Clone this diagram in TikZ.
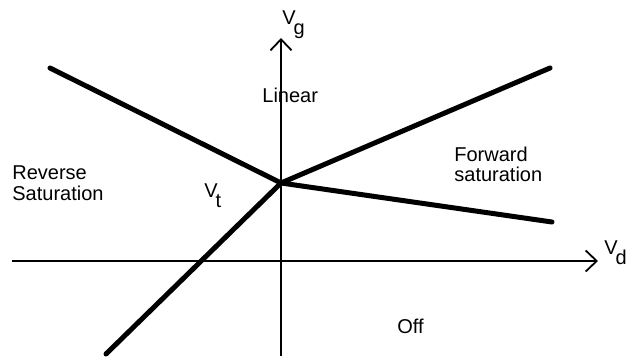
\documentclass[tikz,border=0pt]{standalone}
\usepackage{fontspec}
\setmainfont{Liberation Sans}
\usetikzlibrary{arrows.meta}
\begin{document}
\begin{tikzpicture}[x=0.5pt, y=-0.5pt, font=\fontsize{10}{10}\selectfont,
    axis/.style={line width=0.9pt, -{Straight Barb[length=5.5pt, width=10.5pt]}},
    border/.style={line width=2.5pt, line cap=round},
    lbl/.style={inner sep=0pt, anchor=base west, align=left}]
    \useasboundingbox (0,0) rectangle (627,358);

    % 軸
    \coordinate (vdstart) at (12,261);
    \coordinate (vdend) at (598,261);
    \coordinate (vgstart) at (281,356);
    \coordinate (vgend) at (281,38);
    \draw[axis] (vdstart) -- (vdend);
    \draw[axis] (vgstart) -- (vgend);
    \node[lbl] (vdlabel) at (604,255) {V\kern-1pt\raisebox{-5pt}{d}};
    \node[lbl] (vglabel) at (282,25) {V\kern-1pt\raisebox{-5pt}{g}};

    % 領域の境界線
    \coordinate (vt) at (281,183);
    \coordinate (revend) at (50,68);
    \coordinate (fwdend) at (550,68);
    \coordinate (satend) at (552,222);
    \coordinate (offend) at (106,354);
    \draw[border] (revend) -- (vt) -- (fwdend);
    \draw[border] (offend) -- (vt) -- (satend);

    % 領域の名前 (2行のものは下の行の基線で置く)
    \node[lbl] (linear) at (262,103) {Linear};
    \node[lbl] (reverse) at (12,200) {Reverse\\Saturation};
    \node[lbl] (forward) at (454,182) {Forward\\saturation};
    \node[lbl] (vtlabel) at (204,198) {V\kern-1pt\raisebox{-5pt}{t}};
    \node[lbl] (off) at (397,333) {Off};
\end{tikzpicture}
\end{document}
